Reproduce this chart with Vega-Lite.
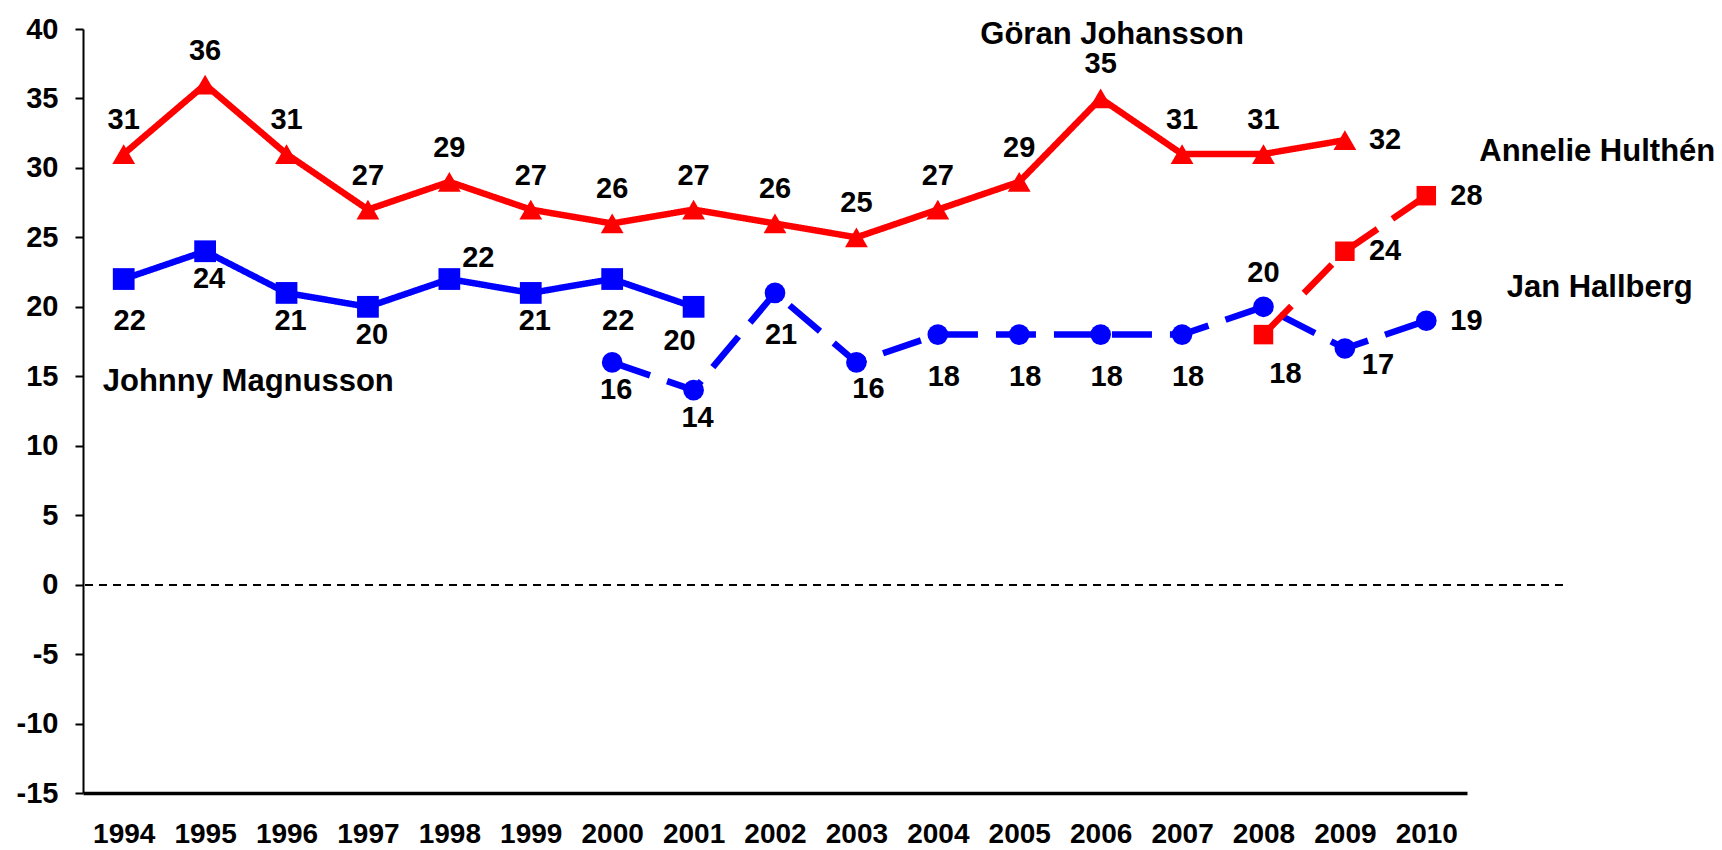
{
  "$schema": "https://vega.github.io/schema/vega-lite/v6.json",
  "autosize": "none",
  "padding": {"left": 83, "top": 29, "right": 159, "bottom": 57},
  "width": 1480,
  "height": 764,
  "config": {
    "view": {"stroke": null},
    "font": "Liberation Sans",
    "text": {"font": "Liberation Sans", "fontWeight": "bold", "fontSize": 29, "fill": "black", "baseline": "middle"},
    "axisX": {
      "ticks": false, "grid": false, "domainColor": "black", "domainWidth": 3.5, "title": null,
      "labelFont": "Liberation Sans", "labelFontWeight": "bold", "labelFontSize": 28, "labelColor": "black",
      "labelPadding": 27, "labelOverlap": false, "labelFlush": false, "labelBound": false
    },
    "axisY": {
      "grid": false, "domainColor": "black", "domainWidth": 2, "tickColor": "black", "tickWidth": 2, "tickSize": 8, "title": null,
      "labelFont": "Liberation Sans", "labelFontWeight": "bold", "labelFontSize": 29, "labelColor": "black",
      "labelPadding": 17, "labelOverlap": false, "labelFlush": false, "labelBound": false
    }
  },
  "datasets": {
    "pts": [
      {"series": "Göran Johansson", "year": 1994, "value": 31},
      {"series": "Göran Johansson", "year": 1995, "value": 36},
      {"series": "Göran Johansson", "year": 1996, "value": 31},
      {"series": "Göran Johansson", "year": 1997, "value": 27},
      {"series": "Göran Johansson", "year": 1998, "value": 29},
      {"series": "Göran Johansson", "year": 1999, "value": 27},
      {"series": "Göran Johansson", "year": 2000, "value": 26},
      {"series": "Göran Johansson", "year": 2001, "value": 27},
      {"series": "Göran Johansson", "year": 2002, "value": 26},
      {"series": "Göran Johansson", "year": 2003, "value": 25},
      {"series": "Göran Johansson", "year": 2004, "value": 27},
      {"series": "Göran Johansson", "year": 2005, "value": 29},
      {"series": "Göran Johansson", "year": 2006, "value": 35},
      {"series": "Göran Johansson", "year": 2007, "value": 31},
      {"series": "Göran Johansson", "year": 2008, "value": 31},
      {"series": "Göran Johansson", "year": 2009, "value": 32},
      {"series": "Johnny Magnusson", "year": 1994, "value": 22},
      {"series": "Johnny Magnusson", "year": 1995, "value": 24},
      {"series": "Johnny Magnusson", "year": 1996, "value": 21},
      {"series": "Johnny Magnusson", "year": 1997, "value": 20},
      {"series": "Johnny Magnusson", "year": 1998, "value": 22},
      {"series": "Johnny Magnusson", "year": 1999, "value": 21},
      {"series": "Johnny Magnusson", "year": 2000, "value": 22},
      {"series": "Johnny Magnusson", "year": 2001, "value": 20},
      {"series": "Jan Hallberg", "year": 2000, "value": 16},
      {"series": "Jan Hallberg", "year": 2001, "value": 14},
      {"series": "Jan Hallberg", "year": 2002, "value": 21},
      {"series": "Jan Hallberg", "year": 2003, "value": 16},
      {"series": "Jan Hallberg", "year": 2004, "value": 18},
      {"series": "Jan Hallberg", "year": 2005, "value": 18},
      {"series": "Jan Hallberg", "year": 2006, "value": 18},
      {"series": "Jan Hallberg", "year": 2007, "value": 18},
      {"series": "Jan Hallberg", "year": 2008, "value": 20},
      {"series": "Jan Hallberg", "year": 2009, "value": 17},
      {"series": "Jan Hallberg", "year": 2010, "value": 19},
      {"series": "Annelie Hulthén", "year": 2008, "value": 18},
      {"series": "Annelie Hulthén", "year": 2009, "value": 24},
      {"series": "Annelie Hulthén", "year": 2010, "value": 28}
    ],
    "names": [
      {"label": "Göran Johansson", "year": 2006.14, "value": 39.6},
      {"label": "Annelie Hulthén", "year": 2012.1, "value": 31.17},
      {"label": "Jan Hallberg", "year": 2012.13, "value": 21.38},
      {"label": "Johnny Magnusson", "year": 1995.53, "value": 14.62}
    ]
  },
  "data": {"name": "pts"},
  "layer": [
    {
      "mark": {"type": "line", "strokeWidth": 6.5},
      "encoding": {
        "x": {
          "field": "year", "type": "quantitative", "title": null,
          "scale": {"domain": [1993.5, 2010.5], "range": [0, 1384], "nice": false, "zero": false},
          "axis": {
            "values": [1994, 1995, 1996, 1997, 1998, 1999, 2000, 2001, 2002, 2003, 2004, 2005, 2006, 2007, 2008, 2009, 2010],
            "format": "d"
          }
        },
        "y": {
          "field": "value", "type": "quantitative", "title": null,
          "scale": {"domain": [-15, 40], "nice": false, "zero": false},
          "axis": {
            "values": [-15, -10, -5, 0, 5, 10, 15, 20, 25, 30, 35, 40],
            "labelExpr": "datum.value < 0 ? '-' + abs(datum.value) : '' + datum.value"
          }
        },
        "color": {
          "field": "series", "type": "nominal", "legend": null,
          "scale": {"domain": ["Göran Johansson", "Johnny Magnusson", "Jan Hallberg", "Annelie Hulthén"], "range": ["#ff0000", "#0000ff", "#0000ff", "#ff0000"]}
        },
        "strokeDash": {
          "field": "series", "type": "nominal", "legend": null,
          "scale": {"domain": ["Göran Johansson", "Johnny Magnusson", "Jan Hallberg", "Annelie Hulthén"], "range": [[1, 0], [1, 0], [40, 18], [40, 18]]}
        }
      }
    },
    {
      "mark": {"type": "rule", "strokeDash": [8, 6], "strokeWidth": 1.5, "color": "black"},
      "encoding": {"y": {"datum": 0, "type": "quantitative"}}
    },
    {
      "mark": {"type": "point", "filled": true, "opacity": 1},
      "encoding": {
        "x": {"field": "year", "type": "quantitative", "title": null},
        "y": {"field": "value", "type": "quantitative", "title": null},
        "color": {"field": "series", "type": "nominal", "legend": null},
        "shape": {
          "field": "series", "type": "nominal", "legend": null,
          "scale": {"domain": ["Göran Johansson", "Johnny Magnusson", "Jan Hallberg", "Annelie Hulthén"], "range": ["triangle-up", "square", "circle", "square"]}
        },
        "size": {
          "field": "series", "type": "nominal", "legend": null,
          "scale": {"domain": ["Göran Johansson", "Johnny Magnusson", "Jan Hallberg", "Annelie Hulthén"], "range": [520, 380, 280, 360]}
        }
      }
    },
    {
      "transform": [{"filter": "(datum.series === 'Göran Johansson' && datum.year !== 2009) || (datum.series === 'Jan Hallberg' && datum.year === 2008)"}],
      "mark": {"type": "text", "dy": -34, "align": "center"},
      "encoding": {
        "x": {"field": "year", "type": "quantitative", "title": null},
        "y": {"field": "value", "type": "quantitative", "title": null},
        "text": {"field": "value", "type": "quantitative"}
      }
    },
    {
      "transform": [{"filter": "(datum.series === 'Göran Johansson' && datum.year === 2009) || (datum.series === 'Jan Hallberg' && datum.year === 2010) || (datum.series === 'Annelie Hulthén' && datum.year >= 2009)"}],
      "mark": {"type": "text", "dx": 24, "align": "left"},
      "encoding": {
        "x": {"field": "year", "type": "quantitative", "title": null},
        "y": {"field": "value", "type": "quantitative", "title": null},
        "text": {"field": "value", "type": "quantitative"}
      }
    },
    {
      "transform": [{"filter": "(datum.series === 'Johnny Magnusson' && indexof([1995, 1996, 1997, 1999], datum.year) >= 0) || (datum.series === 'Jan Hallberg' && indexof([2000, 2001], datum.year) >= 0)"}],
      "mark": {"type": "text", "dy": 28, "dx": 4, "align": "center"},
      "encoding": {
        "x": {"field": "year", "type": "quantitative", "title": null},
        "y": {"field": "value", "type": "quantitative", "title": null},
        "text": {"field": "value", "type": "quantitative"}
      }
    },
    {
      "transform": [{"filter": "(datum.series === 'Johnny Magnusson' && datum.year === 2001)"}],
      "mark": {"type": "text", "dy": 34, "dx": -14, "align": "center"},
      "encoding": {
        "x": {"field": "year", "type": "quantitative", "title": null},
        "y": {"field": "value", "type": "quantitative", "title": null},
        "text": {"field": "value", "type": "quantitative"}
      }
    },
    {
      "transform": [{"filter": "(datum.series === 'Jan Hallberg' && datum.year === 2003)"}],
      "mark": {"type": "text", "dy": 27, "dx": 12, "align": "center"},
      "encoding": {
        "x": {"field": "year", "type": "quantitative", "title": null},
        "y": {"field": "value", "type": "quantitative", "title": null},
        "text": {"field": "value", "type": "quantitative"}
      }
    },
    {
      "transform": [{"filter": "(datum.series === 'Johnny Magnusson' && indexof([1994, 2000], datum.year) >= 0) || (datum.series === 'Jan Hallberg' && indexof([2002, 2004, 2005, 2006, 2007], datum.year) >= 0)"}],
      "mark": {"type": "text", "dy": 42, "dx": 6, "align": "center"},
      "encoding": {
        "x": {"field": "year", "type": "quantitative", "title": null},
        "y": {"field": "value", "type": "quantitative", "title": null},
        "text": {"field": "value", "type": "quantitative"}
      }
    },
    {
      "transform": [{"filter": "(datum.series === 'Annelie Hulthén' && datum.year === 2008)"}],
      "mark": {"type": "text", "dy": 39, "dx": 22, "align": "center"},
      "encoding": {
        "x": {"field": "year", "type": "quantitative", "title": null},
        "y": {"field": "value", "type": "quantitative", "title": null},
        "text": {"field": "value", "type": "quantitative"}
      }
    },
    {
      "transform": [{"filter": "(datum.series === 'Johnny Magnusson' && datum.year === 1998)"}],
      "mark": {"type": "text", "dy": -21, "dx": 29, "align": "center"},
      "encoding": {
        "x": {"field": "year", "type": "quantitative", "title": null},
        "y": {"field": "value", "type": "quantitative", "title": null},
        "text": {"field": "value", "type": "quantitative"}
      }
    },
    {
      "transform": [{"filter": "(datum.series === 'Jan Hallberg' && datum.year === 2009)"}],
      "mark": {"type": "text", "dy": 17, "dx": 33, "align": "center"},
      "encoding": {
        "x": {"field": "year", "type": "quantitative", "title": null},
        "y": {"field": "value", "type": "quantitative", "title": null},
        "text": {"field": "value", "type": "quantitative"}
      }
    },
    {
      "data": {"name": "names"},
      "mark": {"type": "text", "fontSize": 31, "align": "center"},
      "encoding": {
        "x": {"field": "year", "type": "quantitative", "title": null},
        "y": {"field": "value", "type": "quantitative", "title": null},
        "text": {"field": "label", "type": "nominal"}
      }
    }
  ]
}
